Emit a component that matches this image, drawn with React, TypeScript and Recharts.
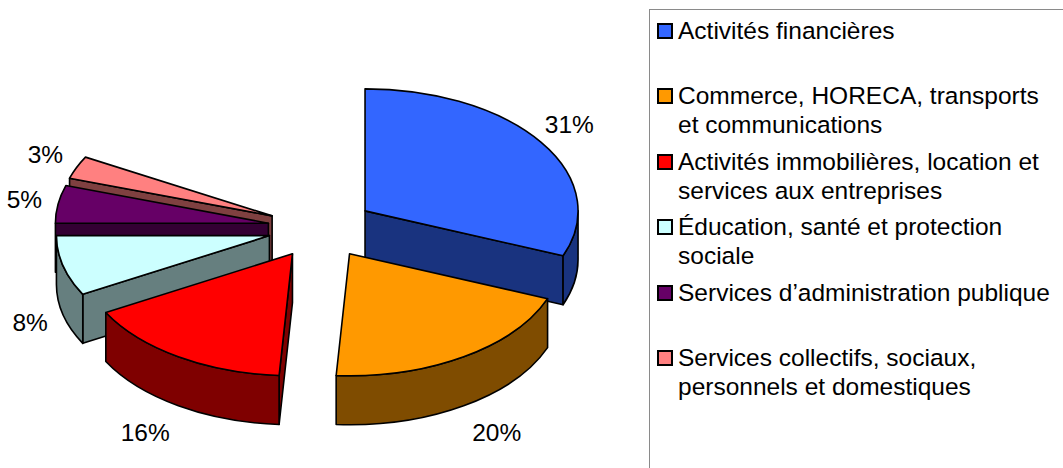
import { PieChart, Pie, Legend } from 'recharts';

// Répartition par secteur (parts en %)
const sectors = [
  'Activités financières',
  'Commerce, HORECA, transports\net communications',
  'Activités immobilières, location et\nservices aux entreprises',
  'Éducation, santé et protection\nsociale',
  'Services d’administration publique',
  'Services collectifs, sociaux,\npersonnels et domestiques',
];
const shares = [31, 20, 16, 8, 5, 3];
// reste non dessiné (vide en haut à gauche du camembert)
const hiddenRest = 17;
const topColors = ['#3366FF', '#FF9900', '#FF0000', '#CCFFFF', '#660066', '#FF8080'];

const data = [
  ...sectors.map((name, i) => ({ name, value: shares[i], fill: topColors[i], hidden: false })),
  { name: '', value: hiddenRest, fill: 'none', hidden: true },
];

const FONT = '"Liberation Sans", Arial, sans-serif';
const RAD = Math.PI / 180;
const TILT = 122 / 213;
const DEPTH = 49;
const EXPLODE = 0.25;

// ordre de dessin des flancs : de l'arrière vers l'avant
const total = shares.reduce((a, b) => a + b, 0) + hiddenRest;
const mids: number[] = [];
shares.reduce((acc, v) => {
  mids.push(acc - (v / total) * 180);
  return acc - (v / total) * 360;
}, 90);
const sideOrder = mids.map((m, i) => i).sort((a, b) => Math.sin(mids[b] * RAD) - Math.sin(mids[a] * RAD));

const darken = (hex: string) => {
  const n = parseInt(hex.slice(1), 16);
  const r = ((n >> 16) & 255) >> 1;
  const g = ((n >> 8) & 255) >> 1;
  const b = (n & 255) >> 1;
  return `rgb(${r},${g},${b})`;
};

function geom(p: any) {
  const rx = p.outerRadius;
  const ry = rx * TILT;
  const hi = Math.max(p.startAngle, p.endAngle);
  const lo = Math.min(p.startAngle, p.endAngle);
  const mid = (hi + lo) / 2;
  const ox = p.cx + EXPLODE * rx * Math.cos(mid * RAD);
  const oy = p.cy - EXPLODE * ry * Math.sin(mid * RAD);
  const pt = (a: number, dz = 0) => `${ox + rx * Math.cos(a * RAD)},${oy - ry * Math.sin(a * RAD) + dz}`;
  return { rx, ry, hi, lo, mid, ox, oy, pt };
}

const isHidden = (p: any) => p.hidden || (p.payload && p.payload.hidden);
const nameOf = (p: any) => (p.payload && p.payload.name !== undefined ? p.payload.name : p.name);

const TopFace = (p: any) => {
  if (isHidden(p)) return <g />;
  const { rx, ry, hi, lo, ox, oy, pt } = geom(p);
  const large = hi - lo > 180 ? 1 : 0;
  const d = `M${ox},${oy} L${pt(hi)} A${rx},${ry} 0 ${large} 1 ${pt(lo)} Z`;
  return <path d={d} fill={p.fill} stroke="#000" strokeWidth={1.6} strokeLinejoin="round" />;
};

const SideFaces = (p: any) => {
  if (isHidden(p)) return <g />;
  const { rx, ry, hi, lo, ox, oy, pt } = geom(p);
  const side = darken(p.fill);
  const faces: string[] = [];
  if (Math.cos(lo * RAD) > 1e-6) faces.push(`M${ox},${oy} L${pt(lo)} L${pt(lo, DEPTH)} L${ox},${oy + DEPTH} Z`);
  if (Math.cos(hi * RAD) < -1e-6) faces.push(`M${ox},${oy} L${pt(hi)} L${pt(hi, DEPTH)} L${ox},${oy + DEPTH} Z`);
  const s = Math.min(hi, 0);
  const e = Math.max(lo, -180);
  if (s > e) {
    faces.push(`M${pt(s)} A${rx},${ry} 0 0 1 ${pt(e)} L${pt(e, DEPTH)} A${rx},${ry} 0 0 0 ${pt(s, DEPTH)} Z`);
  }
  return (
    <g>
      {faces.map((d, i) => (
        <path key={i} d={d} fill={side} stroke="#000" strokeWidth={1.6} strokeLinejoin="round" />
      ))}
    </g>
  );
};

const sideShapeFor = (k: number) => (p: any) => (nameOf(p) === sectors[k] ? <SideFaces {...p} /> : <g />);

const renderLabel = (p: any) => {
  if (isHidden(p)) return null;
  const rx = p.outerRadius;
  const ry = rx * TILT;
  const m = p.midAngle;
  const cs = Math.cos(m * RAD);
  const sn = Math.sin(m * RAD);
  const ox = p.cx + EXPLODE * rx * cs;
  const oy = p.cy - EXPLODE * ry * sn;
  const kx = sn < -0.5 ? 1.29 : 1.16;
  const x = ox + kx * rx * cs;
  const y = oy - 1.26 * ry * sn + (sn < 0 ? DEPTH : 0);
  return (
    <text x={x} y={y} textAnchor="middle" dominantBaseline="central" fontFamily={FONT} fontSize={24.5} fill="#000">
      {`${p.value}%`}
    </text>
  );
};

const renderLegend = () => (
  <div
    style={{
      position: 'relative',
      width: 414,
      height: 470,
      boxSizing: 'border-box',
      borderTop: '1.5px solid #8a8a8a',
      borderLeft: '1.5px solid #8a8a8a',
      fontFamily: FONT,
      fontSize: 24.5,
      lineHeight: '29px',
      color: '#000',
    }}
  >
    {sectors.map((name, i) => (
      <div key={name} style={{ position: 'absolute', left: 7, top: 6 + i * 65.4, display: 'flex', alignItems: 'flex-start' }}>
        <span
          style={{
            display: 'inline-block',
            width: 16,
            height: 16,
            marginTop: 7,
            boxSizing: 'border-box',
            border: '2px solid #000',
            background: topColors[i],
            flexShrink: 0,
          }}
        />
        <div style={{ marginLeft: 5, whiteSpace: 'pre' }}>{name}</div>
      </div>
    ))}
  </div>
);

const pieGeometry = {
  dataKey: 'value',
  nameKey: 'name',
  cx: 316,
  cy: 223,
  outerRadius: 213,
  startAngle: 90,
  endAngle: -270,
  stroke: 'none',
  labelLine: false,
  isAnimationActive: false,
};

export default function App() {
  return (
    <div style={{ position: 'absolute', left: 0, top: 0, width: 1063, height: 468, background: '#fff', overflow: 'hidden' }}>
      <PieChart width={1063} height={468}>
        {sideOrder.map((k) => (
          <Pie
            key={`side-${k}`}
            data={data}
            {...pieGeometry}
            shape={sideShapeFor(k)}
            activeShape={sideShapeFor(k)}
            inactiveShape={sideShapeFor(k)}
            label={false}
          />
        ))}
        <Pie
          data={data}
          {...pieGeometry}
          shape={TopFace}
          activeShape={TopFace}
          inactiveShape={TopFace}
          label={renderLabel}
        />
        <Legend
          content={renderLegend}
          wrapperStyle={{ position: 'absolute', left: 649, top: 9, width: 414, height: 470 }}
        />
      </PieChart>
    </div>
  );
}
